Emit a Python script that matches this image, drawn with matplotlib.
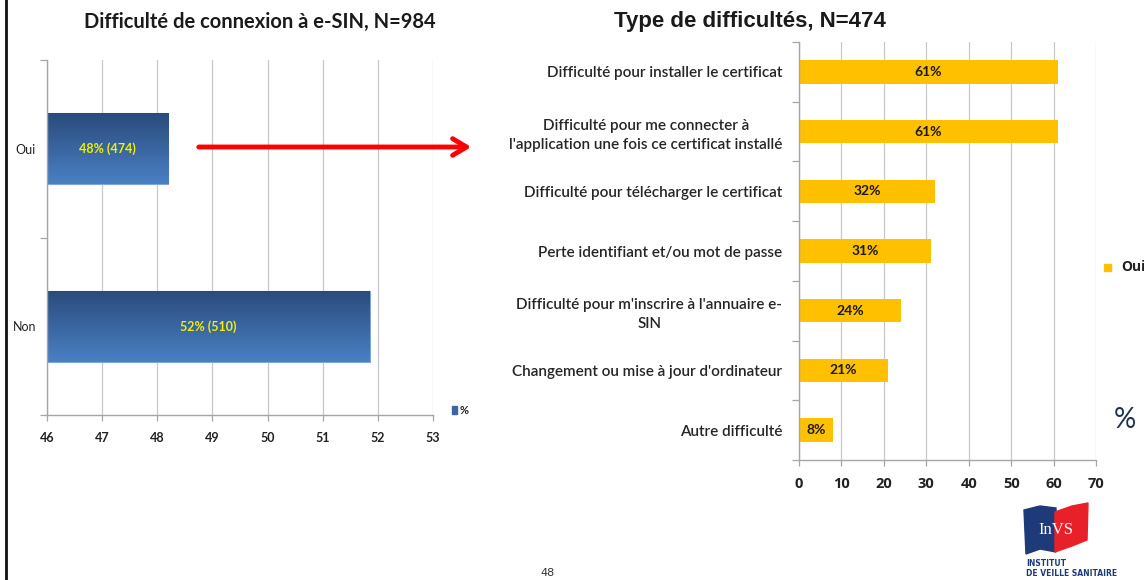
import matplotlib
matplotlib.use("Agg")
import matplotlib.pyplot as plt
import numpy as np
from matplotlib.patches import Polygon, FancyArrowPatch, Rectangle
from matplotlib.lines import Line2D
from matplotlib.transforms import Affine2D

W, H = 1144, 580

# left chart: connection difficulty
conn_cats = ["Oui", "Non"]
conn_vals = [48.2, 51.85]
conn_labels = ["48% (474)", "52% (510)"]
conn_ticks = [46, 47, 48, 49, 50, 51, 52, 53]

# right chart: type of difficulty
diff_cats = [
    "Difficulté pour installer le certificat",
    "Difficulté pour me connecter à\nl'application une fois ce certificat installé",
    "Difficulté pour télécharger le certificat",
    "Perte identifiant et/ou mot de passe",
    "Difficulté pour m'inscrire à l'annuaire e-\nSIN",
    "Changement ou mise à jour d'ordinateur",
    "Autre difficulté",
]
diff_vals = [61, 61, 32, 31, 24, 21, 8]
diff_ticks = [0, 10, 20, 30, 40, 50, 60, 70]

CAL = ["Lato", "DejaVu Sans"]


def px_axes(fig, x0, y0, x1, y1):
    return fig.add_axes([x0 / W, 1 - y1 / H, (x1 - x0) / W, (y1 - y0) / H])


def style_axes(ax):
    for s in ("top", "right"):
        ax.spines[s].set_visible(False)
    for s in ("left", "bottom"):
        ax.spines[s].set_color("#a6a6a6")
        ax.spines[s].set_linewidth(1.0)
    ax.grid(axis="x", color="#c8c8c8", linewidth=0.9)
    ax.set_axisbelow(True)
    ax.tick_params(axis="x", length=4, color="#a6a6a6", width=0.9)
    ax.tick_params(axis="y", which="major", length=0)
    ax.tick_params(axis="y", which="minor", length=5, color="#a6a6a6", width=0.9)


# pixel coords (origin top-left) -> figure
PX = Affine2D().scale(1 / W, -1 / H) + Affine2D().translate(0, 1)

fig = plt.figure(figsize=(W / 100, H / 100), dpi=100)

# ---- left chart
ax1 = px_axes(fig, 47, 60, 433, 415)
style_axes(ax1)
y1 = np.arange(len(conn_cats))
bars = ax1.barh(y1, [v - conn_ticks[0] for v in conn_vals], left=conn_ticks[0],
                height=0.4, color="#3a66a3", edgecolor="#7fa6d6", linewidth=0.8)
grad = np.linspace(0, 1, 100).reshape(-1, 1)
cmap = matplotlib.colors.LinearSegmentedColormap.from_list("g", ["#4a80c4", "#2a4b7c"])
for b in bars:
    x, y, w, h = b.get_x(), b.get_y(), b.get_width(), b.get_height()
    im = ax1.imshow(grad, extent=(x, x + w, y + h, y), aspect="auto", cmap=cmap,
                    origin="lower", zorder=2)
    im.set_clip_path(b)
for b, lab in zip(bars, conn_labels):
    ax1.text(b.get_x() + b.get_width() / 2, b.get_y() + b.get_height() / 2, lab,
             ha="center", va="center", color="#f0f000", fontsize=9,
             fontweight="bold", family=CAL, zorder=3)
ax1.set_xlim(conn_ticks[0], conn_ticks[-1])
ax1.set_ylim(len(conn_cats) - 0.5, -0.5)
ax1.set_xticks(conn_ticks)
ax1.set_xticklabels([str(t) for t in conn_ticks], family=CAL, fontsize=9,
                    fontweight="bold", color="#222222")
ax1.set_yticks(y1)
ax1.set_yticklabels(conn_cats, family=CAL, fontsize=9, color="#222222")
ax1.set_yticks(np.arange(len(conn_cats) + 1) - 0.5, minor=True)
ax1.tick_params(axis="x", pad=8)
ax1.tick_params(axis="y", pad=8)
fig.text(260 / W, 1 - 22 / H, "Difficulté de connexion à e-SIN, N=984",
         ha="center", va="center", fontsize=14.5, fontweight="bold",
         family=CAL, color="#1a1a1a")
# legend "%"
fig.patches.append(Rectangle((452, 414), 5, -8, transform=PX + fig.transFigure,
                             color="#3a66a3"))
fig.text(460 / W, 1 - 410 / H, "%", fontsize=8, fontweight="bold", family=CAL,
         va="center", color="#222222")

# ---- arrow
fig.patches.append(FancyArrowPatch((196 / W, 1 - 147 / H), (474 / W, 1 - 147 / H),
                   transform=fig.transFigure, arrowstyle="->,head_length=10,head_width=6",
                   color="#ff0000", linewidth=3.5, mutation_scale=1))

# ---- right chart
ax2 = px_axes(fig, 799, 42, 1096, 460)
style_axes(ax2)
y2 = np.arange(len(diff_cats))
rbars = ax2.barh(y2, diff_vals, height=0.39, color="#ffc000")
for b, v in zip(rbars, diff_vals):
    ax2.text(b.get_width() / 2, b.get_y() + b.get_height() / 2, f"{v}%",
             ha="center", va="center", fontsize=10, fontweight="bold",
             family=CAL, color="#1a1a1a")
ax2.set_xlim(diff_ticks[0], diff_ticks[-1])
ax2.set_ylim(len(diff_cats) - 0.5, -0.5)
ax2.set_xticks(diff_ticks)
ax2.set_xticklabels([str(t) for t in diff_ticks], family=["Open Sans", "DejaVu Sans"],
                    fontsize=10.5, fontweight="bold", color="#222222")
ax2.set_yticks(y2)
ax2.set_yticklabels(diff_cats, family=CAL, fontsize=11, color="#262626",
                    fontweight="semibold", linespacing=1.45)
for t in ax2.get_yticklabels():
    t.set_horizontalalignment("right")
    t.set_multialignment("center")
ax2.set_yticks(np.arange(len(diff_cats) + 1) - 0.5, minor=True)
ax2.tick_params(axis="x", pad=8)
ax2.tick_params(axis="y", pad=12)
fig.text(750 / W, 1 - 21 / H, "Type de difficultés, N=474", ha="center", va="center",
         fontsize=16, fontweight="bold", family=["Liberation Sans", "DejaVu Sans"],
         color="#1a1a1a")
fig.patches.append(Rectangle((1104, 271), 7, -7, transform=PX + fig.transFigure,
                             color="#ffc000"))
fig.text(1121 / W, 1 - 267 / H, "Oui", fontsize=10, fontweight="bold",
         family=["Open Sans", "DejaVu Sans"], va="center", color="#222222")
fig.text(1114 / W, 1 - 420 / H, "%", fontsize=20, family=CAL,
         va="center", color="#1f3050")

# ---- page frame and page number
fig.add_artist(Line2D([6 / W, 6 / W], [0, 1], transform=fig.transFigure,
                      color="#111111", linewidth=2))
fig.text(548 / W, 1 - 578 / H, "48", fontsize=8, va="bottom", ha="center",
         color="#333333")

# ---- logo
fig.patches.append(Polygon([(1024, 510), (1040, 506), (1056, 508), (1056, 552),
                            (1040, 549), (1026, 554)], closed=True, color="#1f3a78",
                           transform=PX + fig.transFigure))
fig.patches.append(Polygon([(1055, 512), (1072, 506), (1088, 503), (1087, 540),
                            (1072, 546), (1055, 552)], closed=True, color="#e8202a",
                           transform=PX + fig.transFigure))
fig.text(1056 / W, 1 - 530 / H, "InVS", fontsize=12, family=["Liberation Serif"],
         color="white", ha="center", va="center")
fig.text(1026 / W, 1 - 564 / H, "INSTITUT", fontsize=5.5, fontweight="bold",
         color="#1f3a78", va="center")
fig.text(1026 / W, 1 - 573 / H, "DE VEILLE SANITAIRE", fontsize=5.5, fontweight="bold",
         color="#1f3a78", va="center")

fig.savefig("out.png", dpi=100)
